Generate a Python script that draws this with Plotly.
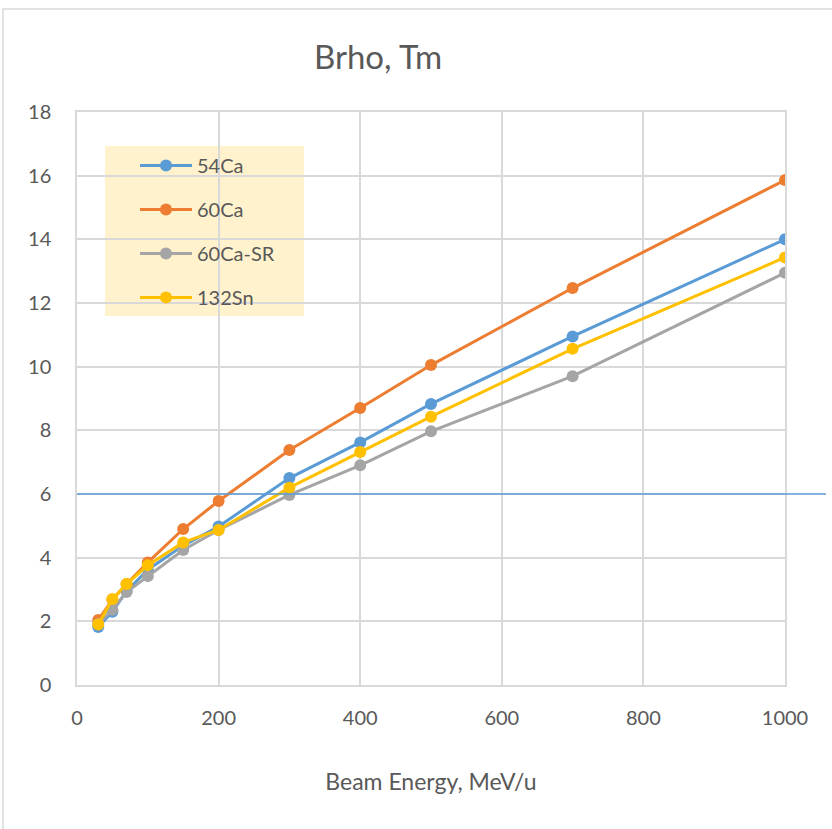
import plotly.graph_objects as go

energy = [30, 50, 70, 100, 150, 200, 300, 400, 500, 700, 1000]
ca54 = [1.82, 2.30, 2.95, 3.62, 4.38, 4.98, 6.50, 7.62, 8.83, 10.95, 14.00]
ca60 = [2.04, 2.68, 3.17, 3.85, 4.90, 5.78, 7.38, 8.70, 10.05, 12.47, 15.86]
ca60sr = [1.92, 2.36, 2.92, 3.42, 4.24, 4.87, 5.97, 6.90, 7.97, 9.70, 12.95]
sn132 = [1.90, 2.70, 3.17, 3.76, 4.48, 4.87, 6.20, 7.32, 8.43, 10.56, 13.43]

series_names = ["54Ca", "60Ca", "60Ca-SR", "132Sn"]
series_vals = [ca54, ca60, ca60sr, sn132]
colors = ["#5B9BD5", "#ED7D31", "#A5A5A5", "#FFC000"]
limit_value = 6

x_ticks = [0, 200, 400, 600, 800, 1000]
y_ticks = [0, 2, 4, 6, 8, 10, 12, 14, 16, 18]

FONT = "Lato"
TXT = "#595959"
GRID = "#D9D9D9"

W, H = 832, 829
L, R, T, B = 77, 47, 112, 144
pw, ph = W - L - R, H - T - B

def px2paper_x(px):
    return (px - L) / pw

def px2paper_y(py):
    return (H - B - py) / ph

fig = go.Figure()
for i, (name, vals, c) in enumerate(zip(series_names, series_vals, colors)):
    fig.add_trace(go.Scatter(
        x=energy, y=vals, name=name, mode="lines+markers",
        line=dict(color=c, width=3),
        marker=dict(color=c, size=12),
        legendgroup=f"g{i}",
    ))

shapes = [
    dict(type="rect", xref="paper", yref="paper",
         x0=px2paper_x(3), x1=px2paper_x(900), y0=px2paper_y(900), y1=px2paper_y(9),
         line=dict(color=GRID, width=1.5), fillcolor="rgba(0,0,0,0)", layer="below"),
    dict(type="rect", xref="paper", yref="paper",
         x0=px2paper_x(105), x1=px2paper_x(304), y0=px2paper_y(316), y1=px2paper_y(146),
         line=dict(width=0), fillcolor="#FFF2CC", layer="below"),
    dict(type="line", xref="paper", yref="y",
         x0=0, x1=px2paper_x(826), y0=limit_value, y1=limit_value,
         line=dict(color="#5B9BD5", width=1.5), layer="above"),
]

fig.update_layout(
    width=W, height=H,
    margin=dict(l=L, r=R, t=T, b=B),
    paper_bgcolor="white", plot_bgcolor="white",
    font=dict(family=FONT, color=TXT),
    title=dict(text="Brho, Tm", x=378 / W, xanchor="center",
               y=1 - 57 / H, yanchor="middle", font=dict(size=33, color=TXT, family=FONT)),
    shapes=shapes,
    showlegend=True,
    legend=dict(
        x=px2paper_x(135), y=px2paper_y(146), xanchor="left", yanchor="top",
        bgcolor="rgba(0,0,0,0)", font=dict(size=20, color=TXT, family=FONT),
        traceorder="grouped", tracegroupgap=15, itemwidth=52,
    ),
    xaxis=dict(range=[0, 1000], tickvals=x_ticks, showgrid=True, gridcolor=GRID, gridwidth=1.5,
               showline=True, linecolor=GRID, linewidth=1.5, mirror=True, zeroline=False,
               ticks="", tickfont=dict(size=20, color=TXT), ticklabelstandoff=14,
               title=dict(text="Beam Energy, MeV/u", font=dict(size=23, color=TXT), standoff=46)),
    yaxis=dict(range=[0, 18], tickvals=y_ticks, showgrid=True, gridcolor=GRID, gridwidth=1.5,
               showline=True, linecolor=GRID, linewidth=1.5, mirror=True, zeroline=False,
               ticks="", tickfont=dict(size=20, color=TXT), ticklabelstandoff=20),
)

fig.write_html("out.html")
